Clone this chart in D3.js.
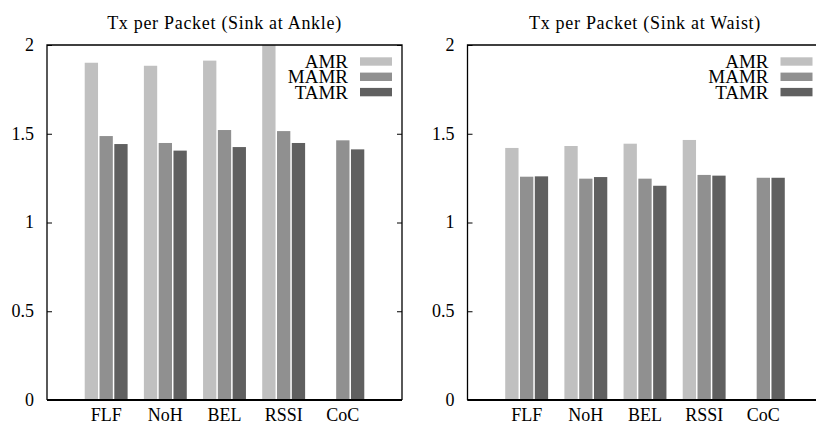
<!DOCTYPE html>
<html>
<head>
<meta charset="utf-8">
<script src="https://cdn.jsdelivr.net/npm/d3@7"></script>
<style>
html,body{margin:0;padding:0;background:#fff;}
svg{display:block;}
text{font-family:"Liberation Serif","Times New Roman",serif;fill:#000;}
</style>
</head>
<body>
<svg id="chart" width="816" height="424"></svg>
<script>
const categories = ["FLF","NoH","BEL","RSSI","CoC"];
const seriesNames = ["AMR","MAMR","TAMR"];
const seriesColors = ["#c0c0c0","#909090","#606060"];
const ankleAMR  = [1.900,1.883,1.912,2.05,null];
const ankleMAMR = [1.487,1.448,1.521,1.515,1.463];
const ankleTAMR = [1.442,1.405,1.425,1.448,1.412];
const waistAMR  = [1.420,1.431,1.444,1.465,null];
const waistMAMR = [1.258,1.247,1.247,1.268,1.252];
const waistTAMR = [1.260,1.256,1.207,1.264,1.252];
const yTicks = [0,0.5,1,1.5,2];
const titles = ["Tx per Packet (Sink at Ankle)","Tx per Packet (Sink at Waist)"];

const panels = [
  {title:titles[0], series:[ankleAMR,ankleMAMR,ankleTAMR], x0:47, x1:402},
  {title:titles[1], series:[waistAMR,waistMAMR,waistTAMR], x0:467.5, x1:822.5}
];

const svg = d3.select("#chart");
const plotTop = 45, plotBottom = 400;
const FS = 18;

panels.forEach((p,pi)=>{
  const g = svg.append("g");
  const x = d3.scaleLinear().domain([0,categories.length+1]).range([p.x0,p.x1]);
  const y = d3.scaleLinear().domain([0,2]).range([plotBottom,plotTop]);
  const clipId = "clip"+pi;
  svg.append("clipPath").attr("id",clipId).append("rect")
    .attr("x",p.x0).attr("y",plotTop).attr("width",p.x1-p.x0).attr("height",plotBottom-plotTop);

  const bw = 0.225, off = 0.25;
  const bars = g.append("g").attr("clip-path",`url(#${clipId})`);
  p.series.forEach((vals,si)=>{
    vals.forEach((v,ci)=>{
      if(v==null) return;
      const cx = ci+1+(si-1)*off;
      bars.append("rect")
        .attr("x",x(cx-bw/2)).attr("width",x(cx+bw/2)-x(cx-bw/2))
        .attr("y",y(v)).attr("height",y(0)-y(v))
        .attr("fill",seriesColors[si]);
    });
  });

  g.append("path")
    .attr("d",`M${p.x0},${plotBottom}V${plotTop}H${p.x1}V${plotBottom}`)
    .attr("fill","none").attr("stroke","#000").attr("stroke-width",1.3);
  g.append("line").attr("x1",p.x0).attr("x2",p.x1).attr("y1",plotBottom).attr("y2",plotBottom)
    .attr("stroke","#000").attr("stroke-width",2);

  const yl = g.append("g").attr("transform",`translate(${p.x0},0)`)
    .call(d3.axisRight(y).tickValues(yTicks).tickSize(5).tickFormat(""));
  yl.select(".domain").remove();
  yl.selectAll("line").attr("stroke","#000");
  const yr = g.append("g").attr("transform",`translate(${p.x1},0)`)
    .call(d3.axisLeft(y).tickValues(yTicks).tickSize(5).tickFormat(""));
  yr.select(".domain").remove();
  yr.selectAll("line").attr("stroke","#000");
  yTicks.forEach(t=>{
    g.append("text").attr("x",p.x0-13).attr("y",y(t)).attr("dy","0.33em")
      .attr("text-anchor","end").style("font-size",FS+"px").text(d3.format("")(t));
  });

  categories.forEach((c,ci)=>{
    g.append("text").attr("x",x(ci+1)).attr("y",421)
      .attr("text-anchor","middle").style("font-size",FS+"px").text(c);
  });

  g.append("text").attr("x",(p.x0+p.x1)/2).attr("y",29)
    .attr("text-anchor","middle").style("font-size",FS+"px")
    .style("letter-spacing","0.7px").text(p.title);

  seriesNames.forEach((s,si)=>{
    const cy = 61.5 + si*15.3;
    g.append("text").attr("x",p.x1-54).attr("y",cy).attr("dy","0.34em")
      .attr("text-anchor","end").style("font-size","19px").text(s);
    g.append("rect").attr("x",p.x1-42).attr("y",cy-4.2).attr("width",32).attr("height",8.4)
      .attr("fill",seriesColors[si]);
  });
});
</script>
</body>
</html>
